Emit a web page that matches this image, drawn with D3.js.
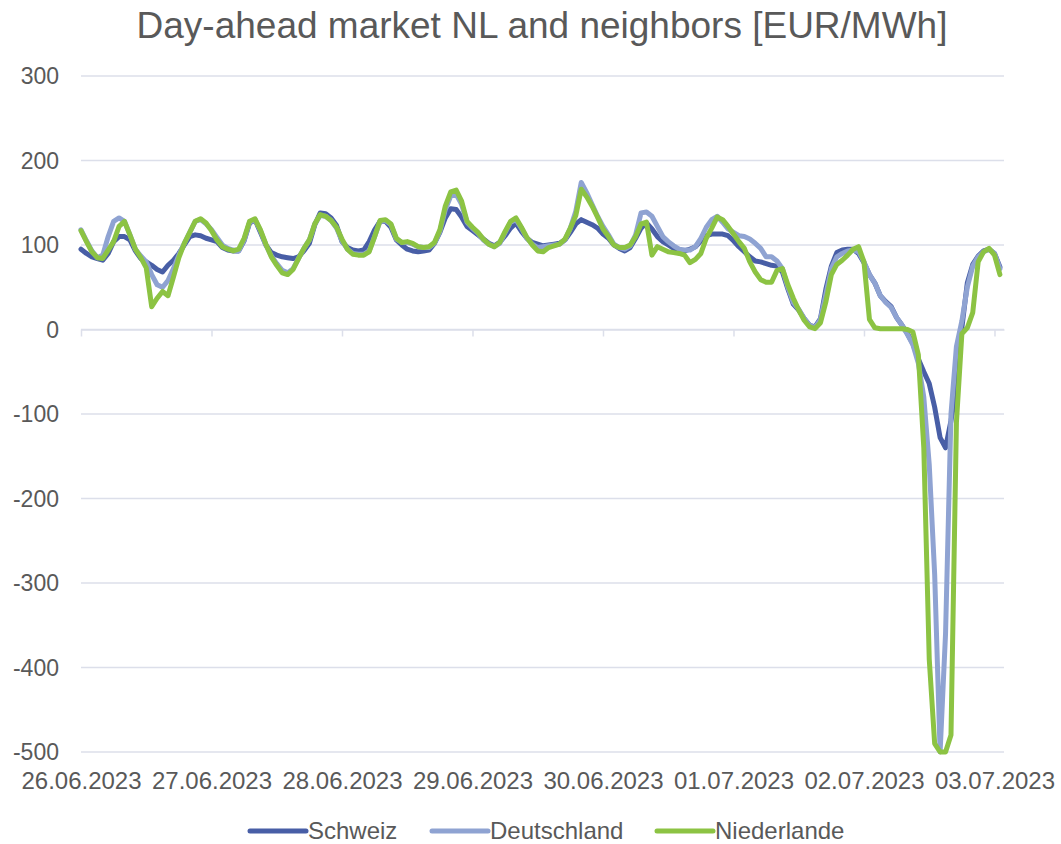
<!DOCTYPE html>
<html>
<head>
<meta charset="utf-8">
<script src="https://cdn.jsdelivr.net/npm/d3@7.9.0/dist/d3.min.js"></script>
<style>
  body { margin: 0; background: #fff; }
  svg { display: block; font-family: "Liberation Sans", Arial, sans-serif; }
</style>
</head>
<body>
<svg id="chart" width="1061" height="844"></svg>
<script>
// hourly day-ahead prices, starting 26.06.2023 00:00
const startDate = new Date(2023, 5, 26, 0, 0);

const schweiz = [
  95, 90, 86, 84, 82, 90, 104, 110, 110, 106, 93, 84, 80, 76, 71, 68, 76, 82, 90, 100, 110, 112, 111, 108,
  106, 104, 97, 94, 93, 93, 105, 126, 130, 115, 100, 91, 88, 86, 85, 84, 86, 93, 102, 124, 138, 137, 132, 123,
  104, 97, 94, 93, 94, 104, 118, 128, 128, 121, 106, 100, 95, 93, 92, 93, 94, 102, 115, 132, 143, 142, 133, 122,
  117, 112, 107, 102, 99, 103, 111, 120, 126, 116, 108, 103, 101, 99, 100, 101, 102, 106, 115, 125, 130, 127, 124, 120,
  113, 108, 100, 96, 93, 97, 108, 120, 126, 119, 110, 104, 100, 96, 93, 93, 95, 98, 105, 111, 113, 113, 113, 111,
  105, 98, 92, 86, 81, 80, 78, 76, 75, 68, 48, 30, 23, 13, 5, 3, 13, 48, 75, 91, 94, 95, 95, 90,
  79, 65, 55, 40, 33, 27, 14, 5, -5, -17, -35, -50, -64, -92, -128, -140, -108, -68, 2, 55, 77, 87, 93, 95, 90, 74
];

const deutschland = [
  118, 105, 93, 85, 88, 110, 128, 132, 128, 112, 95, 87, 80, 65, 53, 50, 58, 72, 88, 102, 115, 128, 130, 125,
  118, 109, 100, 96, 94, 93, 106, 127, 130, 117, 100, 87, 78, 70, 67, 72, 84, 96, 106, 125, 135, 134, 129, 120,
  105, 95, 90, 89, 89, 93, 110, 128, 129, 124, 107, 103, 103, 101, 98, 97, 97, 102, 116, 142, 158, 160, 148, 127,
  120, 114, 106, 101, 98, 102, 115, 127, 130, 120, 108, 101, 97, 98, 99, 100, 101, 106, 120, 140, 174, 162, 148, 134,
  122, 112, 101, 97, 95, 99, 112, 138, 139, 134, 122, 110, 104, 99, 95, 94, 94, 98, 108, 121, 130, 134, 127, 119,
  115, 111, 110, 107, 102, 96, 86, 86, 81, 72, 50, 32, 24, 13, 5, 2, 12, 42, 72, 86, 90, 93, 94, 92,
  80, 65, 55, 40, 32, 26, 14, 5, -6, -18, -40, -80, -160, -290, -500, -360, -100, -20, 10, 50, 75, 86, 92, 95, 90, 72
];

const niederlande = [
  117, 104, 92, 85, 84, 94, 104, 122, 128, 112, 95, 85, 73, 27, 37, 45, 40, 62, 85, 102, 115, 128, 131, 126,
  117, 106, 98, 95, 93, 95, 108, 128, 131, 118, 101, 86, 76, 67, 65, 71, 84, 96, 106, 125, 136, 134, 129, 121,
  107, 95, 89, 88, 88, 92, 110, 129, 130, 125, 108, 103, 104, 102, 98, 97, 98, 103, 118, 146, 163, 165, 152, 128,
  121, 115, 107, 101, 98, 103, 116, 128, 132, 121, 109, 100, 93, 92, 97, 99, 101, 107, 120, 135, 166, 157, 146, 133,
  119, 110, 100, 97, 97, 100, 110, 125, 127, 88, 98, 95, 92, 91, 90, 88, 79, 83, 90, 108, 120, 133, 130, 122,
  113, 104, 96, 80, 68, 59, 56, 56, 70, 72, 53, 37, 23, 11, 3, 1, 8, 33, 65, 77, 82, 88, 95, 98,
  80, 12, 2, 1, 1, 1, 1, 1, 0, -3, -30, -140, -390, -490, -500, -500, -480, -110, -5, 2, 20, 80, 92, 96, 88, 65
];

const seriesNames = ["Schweiz", "Deutschland", "Niederlande"];
const seriesColors = ["#485ea6", "#8fa3d2", "#8cc343"];
const yTicks = [-500, -400, -300, -200, -100, 0, 100, 200, 300];
const dayTicks = d3.timeDay.range(startDate, new Date(2023, 6, 3, 1));

const svg = d3.select("#chart");
const textColor = "#595959";
const gridColor = "#dcdfea";

const x = d3.scaleTime()
  .domain([startDate, new Date(startDate.getTime() + 169.75 * 3600e3)])
  .range([81, 1004]);

const y = d3.scaleLinear()
  .domain([-500, 300])
  .range([752, 76]);

const hourAt = (i) => d3.timeHour.offset(startDate, i);

// title
svg.append("text")
  .attr("x", 542)
  .attr("y", 38)
  .attr("text-anchor", "middle")
  .attr("fill", textColor)
  .style("font-size", "37px")
  .text("Day-ahead market NL and neighbors [EUR/MWh]");

// horizontal gridlines
svg.append("g")
  .selectAll("line")
  .data(yTicks)
  .join("line")
  .attr("x1", x.range()[0])
  .attr("x2", x.range()[1])
  .attr("y1", (d) => y(d))
  .attr("y2", (d) => y(d))
  .attr("stroke", gridColor)
  .attr("stroke-width", 1.5);

// y labels
svg.append("g")
  .selectAll("text")
  .data(yTicks)
  .join("text")
  .attr("x", 59)
  .attr("y", (d) => y(d))
  .attr("dy", "0.35em")
  .attr("text-anchor", "end")
  .attr("fill", textColor)
  .style("font-size", "23px")
  .text((d) => d);

// axis line at zero with day tick marks
const zeroAxis = svg.append("g")
  .attr("transform", `translate(0,${y(0)})`)
  .call(d3.axisBottom(x).tickValues(dayTicks).tickSize(7).tickSizeOuter(0).tickFormat(""));
zeroAxis.selectAll("path, line").attr("stroke", gridColor).attr("stroke-width", 1.5);

// date labels at the bottom
const labelAxis = svg.append("g")
  .attr("transform", `translate(0,${y(-500)})`)
  .call(d3.axisBottom(x).tickValues(dayTicks).tickSize(0).tickPadding(20)
    .tickFormat(d3.timeFormat("%d.%m.%Y")));
labelAxis.select(".domain").remove();
labelAxis.selectAll("text")
  .attr("fill", textColor)
  .style("font-size", "24px")
  .style("font-family", "'Liberation Sans', Arial, sans-serif");

// lines
const line = d3.line()
  .x((d, i) => x(hourAt(i)))
  .y((d) => y(d));

[schweiz, deutschland, niederlande].forEach((values, k) => {
  svg.append("path")
    .attr("d", line(values))
    .attr("fill", "none")
    .attr("stroke", seriesColors[k])
    .attr("stroke-width", 5)
    .attr("stroke-linejoin", "round")
    .attr("stroke-linecap", "round");
});

// legend
const legendX = [250, 432, 657];
seriesNames.forEach((name, k) => {
  const g = svg.append("g").attr("transform", `translate(${legendX[k]},831)`);
  g.append("line")
    .attr("x1", 0).attr("x2", 56)
    .attr("stroke", seriesColors[k])
    .attr("stroke-width", 5)
    .attr("stroke-linecap", "round");
  g.append("text")
    .attr("x", 58)
    .attr("dy", "0.35em")
    .attr("fill", textColor)
    .style("font-size", "24px")
    .text(name);
});
</script>
</body>
</html>
